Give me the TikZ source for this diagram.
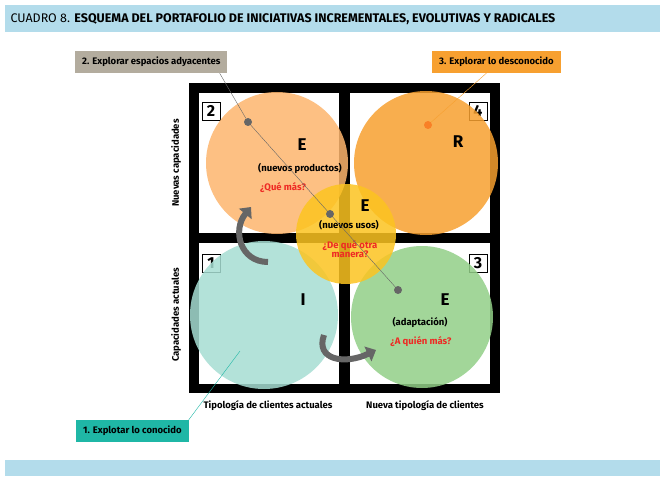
\documentclass[tikz,border=0pt]{standalone}
\usepackage{fontspec}
\setmainfont{Fira Sans}
\usetikzlibrary{arrows.meta}
\definecolor{barblue}{HTML}{B3DCEB}
\definecolor{pale}{HTML}{FDB56E}
\definecolor{deep}{HTML}{F7A030}
\definecolor{sun}{HTML}{FCC420}
\definecolor{aqua}{HTML}{A6DDD3}
\definecolor{leaf}{HTML}{92CF88}
\definecolor{taupe}{HTML}{B3AC9E}
\definecolor{tealbox}{HTML}{1FB7A6}
\definecolor{askred}{HTML}{EE2A24}
\tikzset{
  cell/.style={fill=white},
  blob/.style={fill opacity=0.85},
  tag/.style={font=\bfseries\fontsize{9.5}{11}\selectfont, inner xsep=7pt, minimum height=22pt},
  num/.style={draw=black, fill=white, font=\bfseries\fontsize{16}{16}\selectfont, minimum size=18pt, inner sep=0pt},
  big/.style={font=\bfseries\fontsize{17}{17}\selectfont},
  sub/.style={font=\bfseries\fontsize{9.5}{11}\selectfont, align=center},
  ask/.style={font=\bfseries\fontsize{9.5}{11}\selectfont, text=askred, align=center},
  dot/.style={circle, fill=gray!80!black, inner sep=0pt, minimum size=8pt},
  turn/.style={line width=6pt, draw=gray!80!black, -{Triangle[length=9pt,width=16pt]}}
}
\begin{document}
\begin{tikzpicture}[x=1pt, y=-1pt]

	\useasboundingbox (0,0) rectangle (665,495);

	% Bars

	\fill[barblue] (5,5) rectangle (660,32);
	\fill[barblue] (5,460) rectangle (660,476);
	\node (title) [anchor=west, font=\fontsize{12.5}{14}\selectfont] at (7,19)
		{CUADRO 8. \textbf{ESQUEMA DEL PORTAFOLIO DE INICIATIVAS INCREMENTALES, EVOLUTIVAS Y RADICALES}};

	% Matrix

	\fill (189,83) rectangle (500,393);
	\begin{scope}[cell]
		\fill (199,93) rectangle (339,233);
		\fill (350,93) rectangle (490,233);
		\fill (199,243) rectangle (339,384);
		\fill (350,243) rectangle (490,384);
	\end{scope}

	\node (n2) [num] at (211,111) {2};
	\node (n4) [num] at (478,111) {4};
	\node (n1) [num] at (211,263) {1};
	\node (n3) [num] at (478,263) {3};

	% Circles

	\begin{scope}[blob]
		\fill[pale] (277,163) circle (71);
		\fill[deep] (426,163) circle (72);
		\fill[aqua] (264,315) circle (74);
		\fill[leaf] (422,317) circle (71);
		\fill[sun] (346,234) circle (50);
	\end{scope}

	\node (e2) [big] at (302,145) {E};
	\node (s2) [sub] at (300,168) {(nuevos productos)};
	\node (q2) [ask] at (283,188) {¿Qué más?};
	\node (r4) [big] at (458,142) {R};
	\node (e5) [big] at (365,206) {E};
	\node (s5) [sub] at (349,225) {(nuevos usos)};
	\node (q5) [ask] at (350,249) {¿De qué otra\\[-2pt]manera?};
	\node (i1) [big] at (303,300) {I};
	\node (e3) [big] at (445,300) {E};
	\node (s3) [sub] at (420,322) {(adaptación)};
	\node (q3) [ask] at (421,342) {¿A quién más?};

	% Turns

	\draw[turn] (268,262) .. controls (240,262) and (232,230) .. (251,207);
	\draw[turn] (324,335) .. controls (315,360) and (345,365) .. (376,350);

	% Axis texts

	\node (y2) [sub, rotate=90] at (176,163) {Nuevas capacidades};
	\node (y1) [sub, rotate=90] at (176,315) {Capacidades actuales};
	\node (x1) [sub] at (268,406) {Tipología de clientes actuales};
	\node (x2) [sub] at (425,406) {Nueva tipología de clientes};

	% Callouts

	\node (t2) [tag, fill=taupe, anchor=west] at (75,62) {2. Explorar espacios adyacentes};
	\node (t3) [tag, fill=deep, anchor=west] at (432,62) {3. Explorar lo desconocido};
	\node (t1) [tag, fill=tealbox, anchor=west] at (76,431) {1. Explotar lo conocido};

	\node (d2a) [dot] at (248,122) {};
	\node (d2b) [dot] at (330,214) {};
	\node (d2c) [dot] at (398,290) {};
	\node (d3) [dot, fill=deep!80!red] at (428,125) {};
	\coordinate (d1) at (240,351);

	\draw[gray!80!black, thin] (t2.south east) ++(-8,0) -- (d2a) -- (d2b) -- (d2c);
	\draw[deep, thin] (t3.south) ++(-10,0) -- (d3);
	\draw[tealbox, thin] (d1) -- (t1.north east);

\end{tikzpicture}
\end{document}
